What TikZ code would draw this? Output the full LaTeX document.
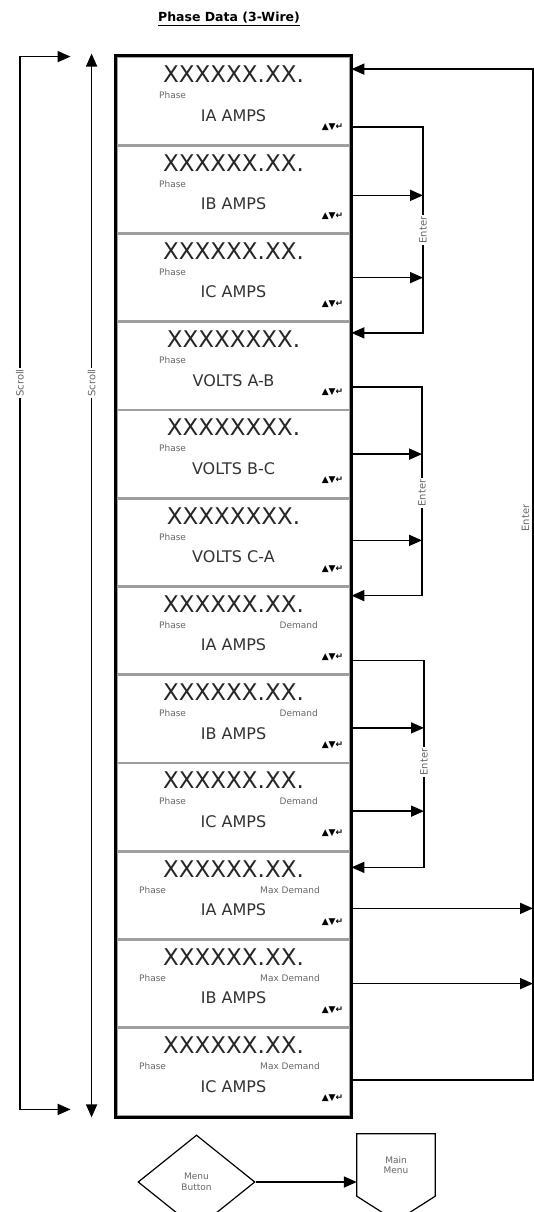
\documentclass[tikz,border=0pt]{standalone}
\usepackage{fontspec}
\setmainfont{DejaVu Sans}
\usetikzlibrary{arrows.meta, shapes.geometric}

\begin{document}
\begin{tikzpicture}[x=1pt, y=-1pt,
  arr/.style={-{Triangle[length=13pt, width=11pt]}, line width=1.7pt},
  dbl/.style={{Triangle[length=13pt, width=11pt]}-{Triangle[length=13pt, width=11pt]}, line width=1.7pt},
  panel/.style={draw=gray!75, line width=2.8pt, minimum width=233pt, minimum height=88.25pt, inner sep=0pt},
  big/.style={font=\fontsize{23}{25}\selectfont, text=black!85},
  unit/.style={font=\fontsize{16}{18}\selectfont, text=black!80},
  small/.style={font=\fontsize{9}{10.5}\selectfont, text=black!60},
  keys/.style={font=\fontsize{9}{10}\selectfont\bfseries, inner sep=0pt},
  side/.style={font=\fontsize{10}{11}\selectfont, text=black!60, fill=white, rotate=90, inner sep=1.5pt}]
\useasboundingbox (0,0) rectangle (534,1212);
\clip (0,0) rectangle (534,1212);
% title
\node[font=\fontsize{12.5}{14}\selectfont\bfseries] (title) at (229,19) {\underline{Phase Data (3-Wire)}};
% display panels
\foreach \i/\val/\lbl in {1/XXXXXX.XX./IA AMPS, 2/XXXXXX.XX./IB AMPS, 3/XXXXXX.XX./IC AMPS,
  4/XXXXXXXX./VOLTS A-B, 5/XXXXXXXX./VOLTS B-C, 6/XXXXXXXX./VOLTS C-A,
  7/XXXXXX.XX./IA AMPS, 8/XXXXXX.XX./IB AMPS, 9/XXXXXX.XX./IC AMPS,
  10/XXXXXX.XX./IA AMPS, 11/XXXXXX.XX./IB AMPS, 12/XXXXXX.XX./IC AMPS}{
  \node[panel] (p\i) at (233.5, {57+88.25*(\i-0.5)}) {};
  \node[big] (v\i) at ([yshift=-19pt]p\i.north) {\val};
  \node[unit] (u\i) at ([yshift=-60pt]p\i.north) {\lbl};
  \node[keys, anchor=east] (k\i) at ([xshift=-8pt, yshift=-72pt]p\i.north east) {▲▼↵};
}
\foreach \i in {1,...,9}
  \node[small, anchor=west] (ph\i) at ([xshift=40pt, yshift=-40pt]p\i.north west) {Phase};
\foreach \i in {10,11,12}
  \node[small, anchor=west] (ph\i) at ([xshift=20pt, yshift=-40pt]p\i.north west) {Phase};
\foreach \i in {7,8,9}
  \node[small, anchor=east] (dm\i) at ([xshift=-30pt, yshift=-40pt]p\i.north east) {Demand};
\foreach \i in {10,11,12}
  \node[small, anchor=east] (dm\i) at ([xshift=-28pt, yshift=-40pt]p\i.north east) {Max Demand};
\draw[line width=3pt] (p1.north west) rectangle (p12.south east);

% enter loops on the right
\coordinate (r1) at (423,230);
\coordinate (r2) at (422,493);
\coordinate (r3) at (424,762);
\coordinate (r4) at (533,518);
\coordinate (a1) at ([yshift=-26pt]p1.east);
\coordinate (a2) at ([yshift=-6pt]p2.east);
\coordinate (a3) at (p3.east);
\coordinate (b4) at ([yshift=33pt]p4.east);
\coordinate (a4) at ([yshift=-21pt]p4.east);
\coordinate (a5) at (p5.east);
\coordinate (a6) at ([yshift=2pt]p6.east);
\coordinate (b7) at ([yshift=35pt]p7.east);
\coordinate (a7) at ([yshift=-30pt]p7.east);
\coordinate (a8) at ([yshift=-9pt]p8.east);
\coordinate (a9) at ([yshift=-4pt]p9.east);
\coordinate (b10) at ([yshift=28pt]p10.east);
\coordinate (a10) at ([yshift=-13pt]p10.east);
\coordinate (a11) at (p11.east);
\coordinate (a12) at ([yshift=-8pt]p12.east);
\coordinate (b1) at ([yshift=32pt]p1.east);
\draw[arr] (a1) -| (r1) |- (b4);
\draw[arr] (a2) -- (a2 -| r1);
\draw[arr] (a3) -- (a3 -| r1);
\draw[arr] (a4) -| (r2) |- (b7);
\draw[arr] (a5) -- (a5 -| r2);
\draw[arr] (a6) -- (a6 -| r2);
\draw[arr] (a7) -| (r3) |- (b10);
\draw[arr] (a8) -- (a8 -| r3);
\draw[arr] (a9) -- (a9 -| r3);
\draw[arr] (a12) -| (r4) |- (b1);
\draw[arr] (a10) -- (a10 -| r4);
\draw[arr] (a11) -- (a11 -| r4);
\node[side] (e1) at (r1) {Enter};
\node[side] (e2) at (r2) {Enter};
\node[side] (e3) at (r3) {Enter};
\node[side, anchor=south, fill=none] (e4) at ([xshift=-2pt]r4) {Enter};

% scroll arrows on the left
\coordinate (s1) at ([xshift=-45pt, yshift=-1pt]p1.north west);
\coordinate (s2) at ([xshift=-45pt, yshift=8pt]p12.south west);
\coordinate (sl) at (20,383);
\coordinate (t1) at ([xshift=-24pt, yshift=2pt]p1.north west);
\coordinate (t2) at ([xshift=-24pt]p12.south west);
\draw[dbl] (s1) -| (sl) |- (s2);
\draw[dbl] (t1) -- (t2);
\node[side] (sc1) at (sl) {Scroll};
\node[side] (sc2) at (t1 |- sl) {Scroll};

% menu button
\node[diamond, draw, line width=1.2pt, minimum width=117pt, minimum height=94pt, inner sep=0pt, small, align=center] (menu) at (196.5,1182) {Menu\\Button};
\node[small, align=center, minimum width=78pt, minimum height=62pt, inner sep=0pt] (mainmenu) at (396,1165) {Main\\Menu};
\draw[line width=1.2pt] (mainmenu.south west) -- (mainmenu.north west) -- (mainmenu.north east)
  -- (mainmenu.south east) -- ([yshift=-25pt]mainmenu.south) -- cycle;
\draw[arr] (menu.east) -- (menu.east -| mainmenu.west);
\end{tikzpicture}
\end{document}
